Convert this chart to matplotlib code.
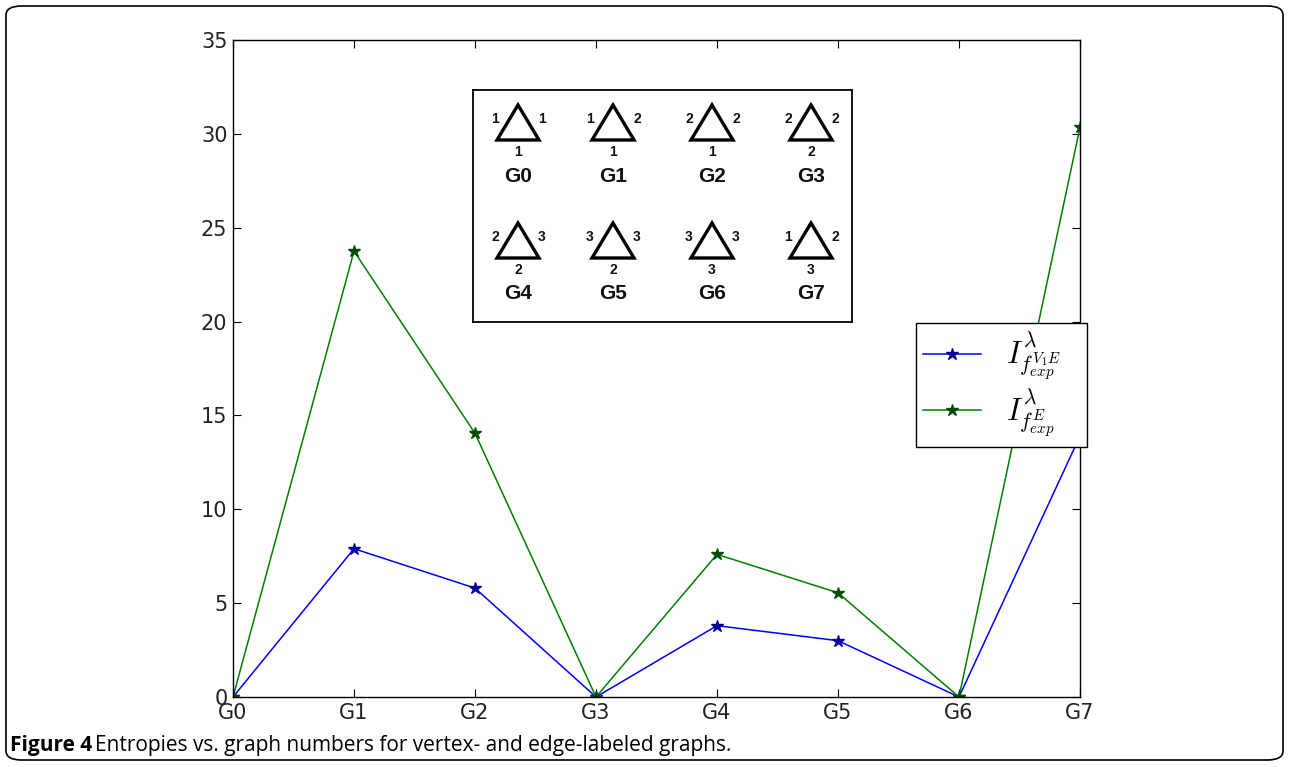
import matplotlib
matplotlib.use("Agg")
import matplotlib.pyplot as plt
from matplotlib.patches import FancyBboxPatch, Polygon

plt.rcParams["mathtext.fontset"] = "cm"

graphs = ["G0", "G1", "G2", "G3", "G4", "G5", "G6", "G7"]
entropy_ve = [0.0, 7.9, 5.8, 0.0, 3.8, 3.0, 0.0, 13.9]
entropy_e = [0.0, 23.75, 14.05, 0.0, 7.6, 5.55, 0.0, 30.35]
yticks = [0, 5, 10, 15, 20, 25, 30, 35]
# edge labels of the inset triangles: (left, right, bottom)
edge_labels = [("1", "1", "1"), ("1", "2", "1"), ("2", "2", "1"), ("2", "2", "2"),
               ("2", "3", "2"), ("3", "3", "2"), ("3", "3", "3"), ("1", "2", "3")]

W, H = 1289, 767
fig = plt.figure(figsize=(W / 100, H / 100), dpi=100)

def fx(x):
    return x / W

def fy(y):
    return 1 - y / H

# outer rounded frame
frame = FancyBboxPatch((fx(6), fy(760)), fx(1277), (754) / H,
                       boxstyle="round,pad=0,rounding_size=0.012",
                       transform=fig.transFigure, fill=False, lw=1.2, ec="black")
fig.patches.append(frame)

ax = fig.add_axes([fx(233), fy(697), fx(1080) - fx(233), (697 - 40) / H])
x = list(range(len(graphs)))
ax.plot(x, entropy_ve, color=(0, 0, 1), marker="*", markersize=9, lw=1.1,
        markerfacecolor=(0, 0, 0.6), markeredgecolor=(0, 0, 0.6),
        label=r"$I^{\lambda}_{f^{V_1E}_{exp}}$")
ax.plot(x, entropy_e, color=(0, 0.5, 0), marker="*", markersize=9, lw=1.1,
        markerfacecolor=(0, 0.3, 0), markeredgecolor=(0, 0.3, 0),
        label=r"$I^{\lambda}_{f^{E}_{exp}}$")
ax.set_xlim(0, 7)
ax.set_ylim(0, 35)
ax.set_xticks(x)
ax.set_xticklabels(graphs)
ax.set_yticks(yticks)
ax.tick_params(direction="in", top=True, right=True, length=6, labelsize=15,
               pad=4, colors="black")
for lab in ax.get_xticklabels() + ax.get_yticklabels():
    lab.set_color("#222222")
for s in ax.spines.values():
    s.set_linewidth(1.0)

leg = ax.legend(loc="upper left", bbox_to_anchor=(0.806, 0.406, 0.202, 0.163),
                mode="expand", borderaxespad=0,
                fontsize=22, fancybox=False, framealpha=1, edgecolor="black",
                handlelength=1.9, handletextpad=0.8, labelspacing=0.15,
                borderpad=0.25)
leg.get_frame().set_linewidth(1.0)

# inset box with triangles
box = fig.add_axes([fx(473), fy(322), fx(852) - fx(473), (322 - 90) / H])
box.set_xlim(0, 379)
box.set_ylim(232, 0)
box.set_xticks([])
box.set_yticks([])
for s in box.spines.values():
    s.set_linewidth(1.3)
col_centers = [45, 140, 239, 338]
row_tops = [15, 133]
for i, (g, labs) in enumerate(zip(graphs, edge_labels)):
    cx = col_centers[i % 4]
    top = row_tops[i // 4]
    base = top + 35
    tri = Polygon([(cx - 21, base), (cx + 21, base), (cx, top)], closed=True,
                  fill=False, lw=2.4, ec="black")
    box.add_patch(tri)
    kw = dict(fontsize=10, fontweight="bold", family="Liberation Sans", color="#111111")
    box.text(cx - 23, top + 14, labs[0], ha="center", va="center", **kw)
    box.text(cx + 24, top + 14, labs[1], ha="center", va="center", **kw)
    box.text(cx, base + 12, labs[2], ha="center", va="center", **kw)
    box.text(cx, base + 36, g, ha="center", va="center", fontsize=15,
             fontweight="bold", family="Liberation Sans", color="#111111")

fig.text(fx(10), fy(746), "Figure 4", fontsize=15, fontweight="bold",
         family="Open Sans", va="center", ha="left")
fig.text(fx(95), fy(746), "Entropies vs. graph numbers for vertex- and edge-labeled graphs.",
         fontsize=15, family="Open Sans", va="center", ha="left")

fig.savefig("out.png", dpi=100)
